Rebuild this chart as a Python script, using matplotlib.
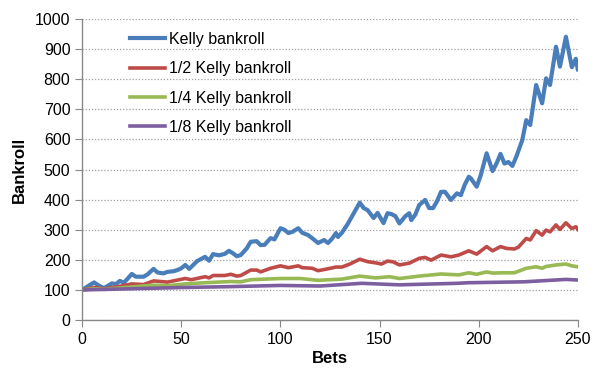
import matplotlib
matplotlib.use("Agg")
import matplotlib.pyplot as plt

plt.rcParams['font.family'] = ['Liberation Sans', 'DejaVu Sans']

kelly_bets = [0, 3, 6, 8, 11, 13, 15, 17, 19, 21, 23, 25, 27, 31, 33, 36, 38, 41, 43, 46, 48, 50,
              52, 54, 58, 60, 62, 64, 66, 69, 72, 74, 76, 78, 80, 83, 85, 88, 90, 92, 95, 97,
              100, 102, 104, 106, 109, 111, 114, 116, 119, 122, 124, 126, 128, 129, 131, 134,
              137, 140, 142, 144, 147, 149, 152, 154, 156, 158, 160, 163, 165, 166, 168, 170,
              173, 175, 177, 179, 181, 183, 186, 189, 191, 193, 195, 196, 199, 201, 204, 207,
              209, 211, 213, 215, 217, 219, 222, 224, 226, 229, 232, 234, 236, 239, 241, 244,
              247, 249, 250]
kelly_vals = [100, 113, 125, 116, 106, 114, 122, 119, 130, 124, 138, 153, 144, 144, 152, 170, 158,
              155, 160, 162, 166, 172, 183, 170, 196, 203, 210, 197, 219, 215, 220, 230, 222, 212,
              216, 238, 260, 262, 249, 250, 272, 268, 305, 300, 289, 293, 305, 290, 282, 272, 256,
              266, 256, 270, 289, 276, 290, 320, 355, 390, 372, 365, 339, 356, 322, 355, 352, 345,
              321, 345, 355, 332, 350, 382, 399, 372, 372, 395, 426, 426, 399, 421, 415, 450, 476,
              471, 443, 480, 554, 495, 520, 552, 520, 525, 512, 543, 598, 664, 648, 781, 720, 803,
              781, 908, 842, 941, 840, 868, 833]

half_bets = [0, 6, 11, 19, 25, 31, 36, 43, 52, 55, 62, 64, 66, 72, 75, 78, 80, 85, 88, 90, 95,
             100, 104, 109, 111, 116, 119, 123, 128, 131, 135, 140, 144, 148, 151, 154, 157, 160,
             165, 170, 173, 176, 181, 186, 190, 195, 199, 204, 207, 211, 214, 218, 220, 224, 226,
             229, 232, 234, 236, 239, 241, 244, 247, 249, 250]
half_vals = [100, 108, 104, 112, 120, 118, 130, 126, 138, 134, 144, 140, 148, 148, 152, 146, 148,
             166, 166, 160, 172, 180, 174, 180, 174, 172, 164, 169, 176, 176, 186, 202, 194, 190,
             186, 196, 193, 183, 189, 205, 208, 199, 216, 210, 216, 230, 219, 244, 230, 244, 238,
             236, 242, 271, 266, 297, 282, 299, 293, 316, 301, 323, 304, 310, 301]

quarter_bets = [0, 6, 11, 25, 36, 43, 52, 62, 75, 80, 85, 100, 110, 119, 131, 140, 148, 155, 160,
                170, 181, 190, 195, 199, 204, 207, 212, 218, 224, 229, 232, 234, 239, 244, 247, 250]
quarter_vals = [100, 104, 102, 110, 116, 114, 120, 124, 128, 127, 134, 138, 138, 132, 136, 146,
                140, 144, 138, 146, 153, 150, 157, 152, 160, 156, 157, 157, 172, 177, 172, 178,
                183, 186, 180, 177]

eighth_bets = [0, 25, 50, 75, 100, 120, 141, 160, 189, 195, 223, 244, 250]
eighth_vals = [100, 104, 108, 111, 115, 113, 122, 117, 122, 124, 127, 135, 133]

labels = ["Kelly bankroll", "1/2 Kelly bankroll", "1/4 Kelly bankroll", "1/8 Kelly bankroll"]
colors = ["#4A7EBB", "#BE4B48", "#98B954", "#7D5FA0"]

fig = plt.figure(figsize=(6.0, 3.81), dpi=100)
ax = fig.add_axes([0.137, 0.160, 0.826, 0.790])

series = [(kelly_bets, kelly_vals), (half_bets, half_vals),
          (quarter_bets, quarter_vals), (eighth_bets, eighth_vals)]
widths = [3.0, 2.6, 2.6, 2.6]
for (b, v), lab, c, w in zip(series, labels, colors, widths):
    ax.plot(b, v, color=c, lw=w, label=lab, solid_joinstyle='round')

ax.set_xlim(0, 250)
ax.set_ylim(0, 1000)
ax.set_xticks(range(0, 251, 50))
ax.set_yticks(range(0, 1001, 100))
ax.yaxis.grid(True, linestyle=(0, (1, 1.5)), color='#A0A0A0', lw=0.9)
ax.set_axisbelow(True)
for s in ['top', 'right']:
    ax.spines[s].set_visible(False)
for s in ['left', 'bottom']:
    ax.spines[s].set_color('#888888')
    ax.spines[s].set_linewidth(1.0)
ax.tick_params(axis='both', direction='out', length=5, color='#888888', labelsize=11.5,
               labelcolor='black')
ax.set_xlabel("Bets", fontsize=12, fontweight='bold', labelpad=3)
ax.set_ylabel("Bankroll", fontsize=12, fontweight='bold', labelpad=6)

leg = ax.legend(loc='upper left', bbox_to_anchor=(0.068, 1.005), frameon=False, fontsize=11.5,
                handlelength=2.2, labelspacing=0.9, handletextpad=0.25)

fig.savefig("out.png", dpi=100)
